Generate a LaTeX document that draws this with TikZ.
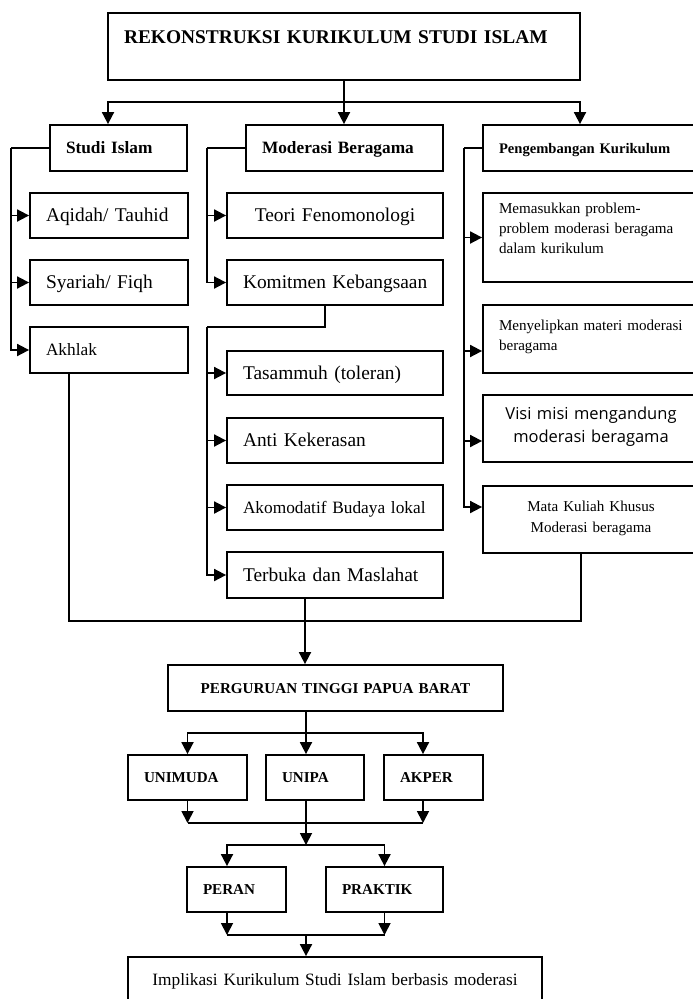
\documentclass[tikz,border=0pt]{standalone}
\usepackage{fontspec}
\setmainfont{Liberation Serif}
\newfontfamily\visifont{Open Sans}
\usetikzlibrary{arrows.meta}
\tikzset{>={Triangle[length=12pt,width=12pt]}}
\tikzset{
  box/.style={draw, inner xsep=16pt, inner ysep=0pt, align=left},
  cbox/.style={box, align=center},
  f19/.style={font=\fontsize{19.4}{23}\selectfont, text height=12.8pt, text depth=0pt},
  f17/.style={font=\fontsize{17.3}{21}\selectfont, text height=11.5pt, text depth=0pt},
  f15/.style={font=\fontsize{15.1}{20}\selectfont, text height=10pt, text depth=0pt},
}

\begin{document}
\begin{tikzpicture}[x=1pt,y=-1pt,line width=1.8pt]
  \useasboundingbox (0,0) rectangle (693,999);
  \clip (0,0) rectangle (693,999);
  % boxes
  \node[box,f19,text width=440pt,text height=30pt,text depth=37pt] (title) at (344,46.5) {\bfseries REKONSTRUKSI KURIKULUM STUDI ISLAM};

  \node[box,f17,text width=105pt,minimum height=46pt] (studi) at (118.5,148) {\bfseries Studi Islam};
  \node[box,f17,text width=165pt,minimum height=46pt] (moder) at (344.5,148) {\bfseries Moderasi Beragama};
  \node[box,f15,font=\fontsize{14.6}{18}\selectfont,text width=184pt,minimum height=46pt] (peng) at (591,148) {\bfseries Pengembangan Kurikulum};

  \node[box,f19,text width=126pt,minimum height=45pt] (aqidah) at (109,215.5) {Aqidah/ Tauhid};
  \node[box,f19,text width=126pt,minimum height=45pt] (syariah) at (109,282.5) {Syariah/ Fiqh};
  \node[box,f17,text width=126pt,minimum height=46pt] (akhlak) at (109,350) {Akhlak};

  \node[cbox,f19,text width=184pt,minimum height=45pt] (teori) at (335,215.5) {Teori Fenomonologi};
  \node[box,f19,text width=184pt,minimum height=45pt] (komit) at (335,282.5) {\mbox{Komitmen Kebangsaan}};
  \node[box,f19,text width=184pt,minimum height=44pt] (tasam) at (335,373) {Tasammuh (toleran)};
  \node[box,f19,text width=184pt,minimum height=45pt] (anti) at (335,440.5) {Anti Kekerasan};
  \node[box,f17,text width=184pt,minimum height=45pt] (akom) at (335,507.5) {\mbox{Akomodatif Budaya lokal}};
  \node[box,f19,text width=184pt,minimum height=46pt] (terbuka) at (335,575) {Terbuka dan Maslahat};

  \node[box,f15,text width=184pt,text height=20pt,text depth=69pt] (memas) at (591,237.5) {Memasukkan problem-\\problem moderasi beragama\\dalam kurikulum};
  \node[box,f15,text width=184pt,text height=25pt,text depth=43pt] (menyel) at (591,339) {\mbox{Menyelipkan materi moderasi}\\beragama};
  \node[cbox,font=\visifont\fontsize{16.5}{23}\selectfont,text width=184pt,text height=24pt,text depth=43pt] (visi) at (591,428.5) {Visi misi mengandung\\moderasi beragama};
  \node[cbox,f15,font=\fontsize{15.1}{21}\selectfont,text width=184pt,text height=25pt,text depth=42pt] (mata) at (591,519.5) {Mata Kuliah Khusus\\Moderasi beragama};

  \node[cbox,f15,text width=303pt,minimum height=46pt] (pt) at (335.5,688) {\bfseries PERGURUAN TINGGI PAPUA BARAT};
  \node[box,f15,text width=87pt,minimum height=45pt] (unimuda) at (187.5,777.5) {\bfseries UNIMUDA};
  \node[box,f15,text width=66pt,minimum height=45pt] (unipa) at (315,777.5) {\bfseries UNIPA};
  \node[box,f15,text width=67pt,minimum height=45pt] (akper) at (433.5,777.5) {\bfseries AKPER};
  \node[box,f15,text width=67pt,minimum height=45pt] (peran) at (236.5,889.5) {\bfseries PERAN};
  \node[box,f15,text width=85pt,minimum height=45pt] (praktik) at (384.5,889.5) {\bfseries PRAKTIK};
  \node[cbox,f17,text width=382pt,minimum height=46pt] (impl) at (335,980) {Implikasi Kurikulum Studi Islam berbasis moderasi};

  % top fork
  \coordinate (top) at (344,102);
  \draw (title.south) -- (top);
  \draw[->] (top) -| ([xshift=-10.5pt]studi.north);
  \draw[->] (top) -- (top |- moder.north);
  \draw[->] (top) -| ([xshift=-11pt]peng.north);

  % left column
  \coordinate (lbus) at (11,148);
  \draw (studi.west) -- (lbus);
  \foreach \n in {aqidah,syariah,akhlak} \draw[->] (lbus) |- (\n.west);

  % middle column
  \coordinate (mbus) at (207,148);
  \draw (moder.west) -- (mbus);
  \foreach \n in {teori,komit} \draw[->] (mbus) |- (\n.west);
  \coordinate (mbus2) at (207,327);
  \draw ([xshift=-10pt]komit.south) |- (mbus2);
  \foreach \n in {tasam,anti,akom,terbuka} \draw[->] (mbus2) |- (\n.west);

  % right column
  \coordinate (rbus) at (464,148);
  \draw (peng.west) -- (rbus);
  \draw[->] (rbus) |- (memas.west);
  \draw[->] (rbus) |- ([yshift=-12pt]menyel.west);
  \draw[->] (rbus) |- ([yshift=-12.5pt]visi.west);
  \draw[->] (rbus) |- ([yshift=12.5pt]mata.west);

  % collect to PT
  \coordinate (low) at (305,621);
  \draw ([xshift=-40pt]akhlak.south) |- (low) -| ([xshift=-10pt]mata.south);
  \draw[->] ([xshift=-30pt]terbuka.south) -- (low |- pt.north);

  % PT fork
  \coordinate (fork2) at (306,733);
  \draw (pt.south -| fork2) -- (fork2);
  \draw[->] (fork2) -| (unimuda.north);
  \draw[->] (fork2) -- (fork2 |- unipa.north);
  \draw[->] (fork2) -| ([xshift=-10.5pt]akper.north);
  \coordinate (join2) at (306,823);
  \draw[->] (unimuda.south) -- (unimuda.south |- join2);
  \draw[->] ([xshift=-10.5pt]akper.south) -- ([xshift=-10.5pt]akper.south |- join2);
  \draw (unimuda.south |- join2) -- ([xshift=-10.5pt]akper.south |- join2);
  \coordinate (fork3) at (306,845);
  \draw[->] (unipa.south -| fork2) -- (fork3);

  % peran / praktik
  \draw[->] (fork3) -| ([xshift=-9.5pt]peran.north);
  \draw[->] (fork3) -| (praktik.north);
  \coordinate (join3) at (306,935);
  \draw[->] ([xshift=-9.5pt]peran.south) -- ([xshift=-9.5pt]peran.south |- join3);
  \draw[->] (praktik.south) -- (praktik.south |- join3);
  \draw ([xshift=-9.5pt]peran.south |- join3) -- (praktik.south |- join3);
  \draw[->] (join3) -- (join3 |- impl.north);
\end{tikzpicture}
\end{document}
